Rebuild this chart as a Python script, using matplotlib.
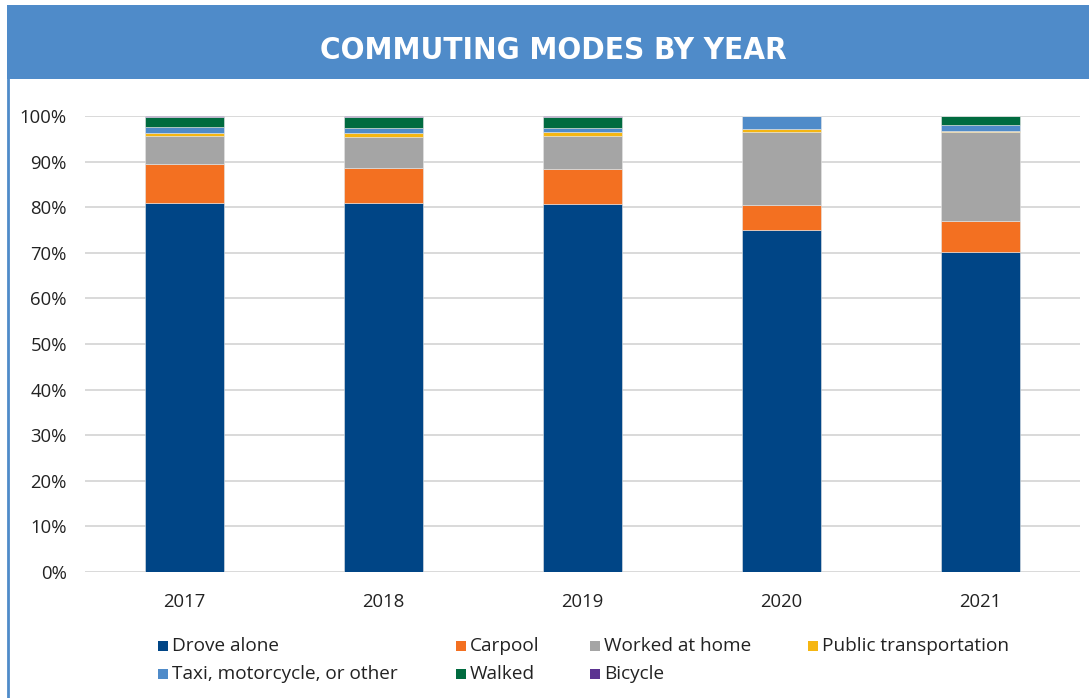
import matplotlib
matplotlib.use("Agg")
import matplotlib.pyplot as plt
from matplotlib.patches import Rectangle
from matplotlib.lines import Line2D
import numpy as np

years = ["2017", "2018", "2019", "2020", "2021"]
drove_alone = [80.9, 81.0, 80.6, 75.1, 70.1]
carpool = [8.5, 7.5, 7.7, 5.3, 6.9]
worked_at_home = [6.2, 6.8, 7.4, 16.2, 19.4]
public_transportation = [0.7, 0.9, 0.9, 0.6, 0.4]
taxi_other = [1.2, 1.2, 0.8, 2.8, 1.2]
walked = [2.35, 2.45, 2.45, 0.0, 2.0]
bicycle = [0.15, 0.15, 0.15, 0.0, 0.0]

series_names = ["Drove alone", "Carpool", "Worked at home", "Public transportation",
                "Taxi, motorcycle, or other", "Walked", "Bicycle"]
series_vals = [drove_alone, carpool, worked_at_home, public_transportation,
               taxi_other, walked, bicycle]
colors = ["#004586", "#f37021", "#a5a5a5", "#f5b612", "#4f8bc9", "#006b3f", "#5b3391"]

plt.rcParams['font.family'] = ['Open Sans', 'DejaVu Sans']

W, H = 1089, 698
fig = plt.figure(figsize=(W / 100, H / 100), dpi=100)
fig.patch.set_facecolor("white")

# header band
fig.patches.append(Rectangle((7 / W, 1 - 79 / H), 1 - 7 / W, 74 / H,
                             transform=fig.transFigure, facecolor="#4f8bc9",
                             edgecolor="none", zorder=0))
# left border line
fig.lines.append(Line2D([8 / W, 8 / W], [0, 1 - 79 / H], transform=fig.transFigure,
                        color="#4f8bc9", linewidth=2))
fig.text(553 / W, 1 - 59 / H, "COMMUTING MODES BY YEAR", ha="center", va="baseline",
         color="white", fontsize=22.5, fontweight="bold", fontstretch="condensed",
         family=["DejaVu Sans", "Open Sans"])

ax = fig.add_axes([85 / W, 1 - 572 / H, 995 / W, 456 / H])
x = np.arange(len(years))
bottom = np.zeros(len(years))
for name, vals, c in zip(series_names, series_vals, colors):
    v = np.array(vals) / 100.0
    ax.bar(x, v, 0.4, bottom=bottom, color=c, edgecolor="#e6e6e6", linewidth=0.4,
           label=name, zorder=3)
    bottom += v

ax.set_xlim(-0.5, len(years) - 0.5)
ax.set_ylim(0, 1.0)
ax.set_yticks(np.arange(0, 1.01, 0.1))
ax.set_yticklabels([f"{int(round(t * 100))}%" for t in np.arange(0, 1.01, 0.1)])
ax.set_xticks(x)
ax.set_xticklabels(years)
ax.tick_params(axis="both", length=0, labelsize=13.3, colors="#222222")
ax.tick_params(axis="x", pad=15)
ax.tick_params(axis="y", pad=13)
ax.grid(axis="y", color="#d9d9d9", linewidth=1.4, zorder=0)
for s in ax.spines.values():
    s.set_visible(False)

# legend (manual layout)
leg_pos = [(158, 646), (456, 646), (590, 646), (808, 646),
           (158, 674), (456, 674), (590, 674)]
for (lx, ly), name, c in zip(leg_pos, series_names, colors):
    fig.patches.append(Rectangle((lx / W, 1 - (ly + 5) / H), 10 / W, 10 / H,
                                 transform=fig.transFigure, facecolor=c, edgecolor="none"))
    fig.text((lx + 14) / W, 1 - ly / H, name, ha="left", va="center",
             fontsize=13.7, color="#222222")

fig.savefig("out.png", dpi=100)
